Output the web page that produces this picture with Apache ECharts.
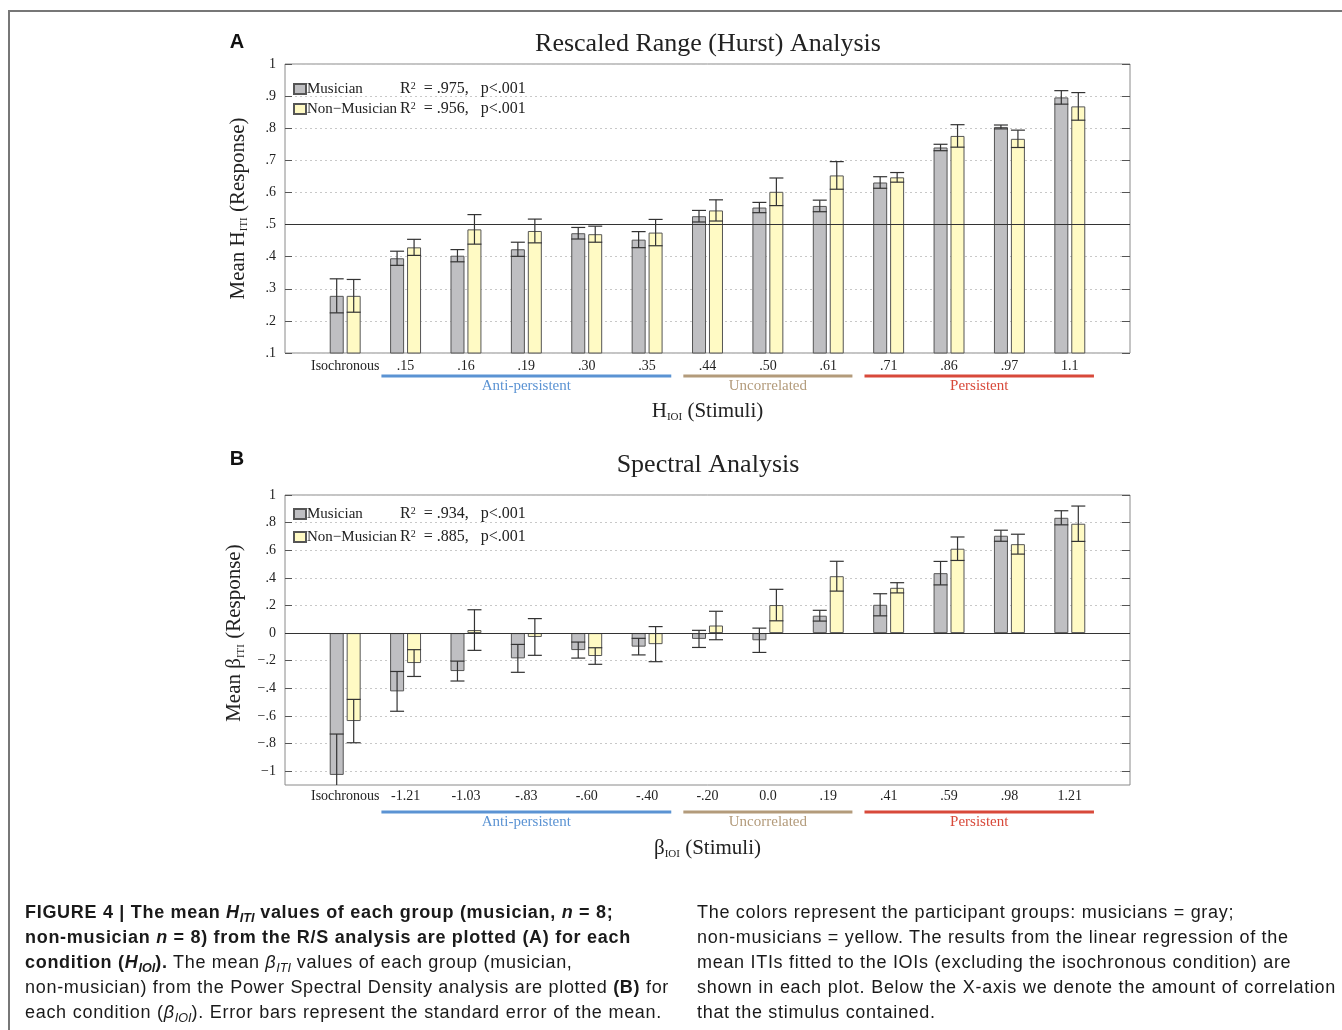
<!DOCTYPE html>
<html>
<head>
<meta charset="utf-8">
<title>Figure 4</title>
<script src="https://cdn.jsdelivr.net/npm/echarts@6/dist/echarts.min.js"></script>
<style>
    html, body { margin: 0; padding: 0; background: #fff; }
    #main { position: absolute; left: 0; top: 0; width: 1342px; height: 1030px; }
    #frame { position: absolute; left: 8px; top: 10px; width: 1400px; height: 1100px; border-top: 2px solid #777; border-left: 2px solid #777; pointer-events: none; }
    .cap { position: absolute; font-family: "Liberation Sans", Arial, sans-serif; font-size: 18px; letter-spacing: 0.7px; color: #1a1a1a; line-height: 25px; }
    .cap div { white-space: nowrap; height: 25px; }
    .cap .j { text-align: justify; text-align-last: justify; }
    .cap sub { font-size: 0.7em; line-height: 0; vertical-align: -0.3em; letter-spacing: 0; }
</style>
</head>
<body>
<div id="main"></div>
<div id="frame"></div>
<div class="cap" style="left:25px; top:900px;">
    <div><b>FIGURE 4 | The mean <i>H<sub>ITI</sub></i> values of each group (musician, <i>n</i> = 8;</b></div>
    <div><b>non-musician <i>n</i> = 8) from the R/S analysis are plotted (A) for each</b></div>
    <div><b>condition (<i>H<sub>IOI</sub></i>).</b> The mean <i>β<sub>ITI</sub></i> values of each group (musician,</div>
    <div class="j" style="width:640px">non-musician) from the Power Spectral Density analysis are plotted <b>(B)</b> for</div>
    <div class="j" style="width:637px">each condition (<i>β<sub>IOI</sub></i>). Error bars represent the standard error of the mean.</div>
</div>
<div class="cap" style="left:697px; top:900px;">
    <div>The colors represent the participant groups: musicians = gray;</div>
    <div>non-musicians = yellow. The results from the linear regression of the</div>
    <div>mean ITIs fitted to the IOIs (excluding the isochronous condition) are</div>
    <div class="j" style="width:639px">shown in each plot. Below the X-axis we denote the amount of correlation</div>
    <div>that the stimulus contained.</div>
</div>
<script>
// 数据 (A) R/S 分析
var catA = ['Isochronous', '.15', '.16', '.19', '.30', '.35', '.44', '.50', '.61', '.71', '.86', '.97', '1.1'];
var musA = [0.278, 0.395, 0.403, 0.423, 0.473, 0.453, 0.526, 0.553, 0.558, 0.631, 0.740, 0.804, 0.896];
var musAErr = [0.053, 0.022, 0.019, 0.022, 0.018, 0.025, 0.018, 0.016, 0.018, 0.018, 0.010, 0.006, 0.021];
var nonA = [0.278, 0.429, 0.485, 0.480, 0.470, 0.475, 0.544, 0.602, 0.653, 0.647, 0.776, 0.767, 0.868];
var nonAErr = [0.051, 0.025, 0.046, 0.037, 0.025, 0.041, 0.033, 0.043, 0.043, 0.015, 0.035, 0.027, 0.043];
var r2A = ['.975', '.956'];
var refA = 0.5;

// 数据 (B) 功率谱分析
var catB = ['Isochronous', '-1.21', '-1.03', '-.83', '-.60', '-.40', '-.20', '0.0', '.19', '.41', '.59', '.98', '1.21'];
var musB = [-1.027, -0.422, -0.275, -0.183, -0.123, -0.098, -0.042, -0.052, 0.126, 0.205, 0.434, 0.705, 0.835];
var musBErr = [0.296, 0.144, 0.072, 0.101, 0.058, 0.060, 0.062, 0.088, 0.039, 0.080, 0.085, 0.040, 0.051];
var nonB = [-0.637, -0.217, 0.022, -0.028, -0.166, -0.080, 0.055, 0.203, 0.412, 0.328, 0.611, 0.644, 0.792];
var nonBErr = [0.157, 0.097, 0.147, 0.133, 0.060, 0.127, 0.103, 0.114, 0.108, 0.037, 0.085, 0.072, 0.128];
var r2B = ['.934', '.885'];
var refB = 0;

var groupNames = ['Musician', 'Non−Musician'];
var pText = 'p<.001';

// x轴下方的相关性分组
var corrNames = ['Anti-persistent', 'Uncorrelated', 'Persistent'];
var corrStart = [1, 6, 9];
var corrEnd = [5, 8, 12];
var corrColors = ['#5b93d3', '#b39b7b', '#d8493a'];

var SERIF = '"Liberation Serif", "DejaVu Serif", serif';
var SANS = '"Liberation Sans", Arial, sans-serif';
var BAR_W = 14;
var BAR_OFF = 8.5;

var chart = echarts.init(document.getElementById('main'));

function fmtTick(v) {
    var r = Math.round(v * 10) / 10;
    if (r === 0) return '0';
    var s = Math.abs(r) === 1 ? '1' : Math.abs(r).toFixed(1).replace(/^0/, '');
    return (r < 0 ? '−' : '') + s;
}

// 误差线
function errRender(offset) {
    return function (params, api) {
        var i = api.value(0), v = api.value(1), e = api.value(2);
        var c1 = api.coord([i, v + e]);
        var c2 = api.coord([i, v - e]);
        var cs = params.coordSys;
        var x = c1[0] + offset;
        var yTop = Math.max(c1[1], cs.y);
        var yBot = Math.min(c2[1], cs.y + cs.height);
        var st = { stroke: '#333', lineWidth: 1.2 };
        var kids = [{ type: 'line', shape: { x1: x, y1: yTop, x2: x, y2: yBot }, style: st }];
        if (c1[1] >= cs.y) kids.push({ type: 'line', shape: { x1: x - BAR_W / 2, y1: yTop, x2: x + BAR_W / 2, y2: yTop }, style: st });
        if (c2[1] <= cs.y + cs.height) kids.push({ type: 'line', shape: { x1: x - BAR_W / 2, y1: yBot, x2: x + BAR_W / 2, y2: yBot }, style: st });
        return { type: 'group', children: kids };
    };
}

function corrRender(lineGap, textGap) {
    return function (params, api) {
        var s = api.value(0), e = api.value(1), k = api.value(2);
        var band = api.size([1, 0])[0];
        var x1 = api.coord([s, 0])[0] - band * 0.4;
        var x2 = api.coord([e, 0])[0] + band * 0.4;
        var yb = params.coordSys.y + params.coordSys.height;
        return {
            type: 'group',
            children: [
                { type: 'line', shape: { x1: x1, y1: yb + lineGap, x2: x2, y2: yb + lineGap }, style: { stroke: corrColors[k], lineWidth: 3 } },
                { type: 'text', style: { text: corrNames[k], x: (x1 + x2) / 2, y: yb + textGap, align: 'center', verticalAlign: 'middle', fill: corrColors[k], font: '15px ' + SERIF } }
            ]
        };
    };
}

function legendFor(r2, top, gap) {
    return {
        data: groupNames,
        orient: 'vertical',
        left: 293,
        top: top,
        padding: 0,
        itemGap: gap,
        itemWidth: 12,
        itemHeight: 10,
        icon: 'rect',
        selectedMode: false,
        formatter: function (name) {
            var k = groupNames.indexOf(name);
            return '{n|' + name + '}{r|R}{p|2}{r|  = ' + r2[k] + ',   ' + pText + '}';
        },
        textStyle: {
            padding: [0, 0, 0, -4],
            rich: {
                n: { width: 93, fontSize: 15, fontFamily: SERIF, color: '#222', lineHeight: 16 },
                r: { fontSize: 16, fontFamily: SERIF, color: '#222', lineHeight: 16 },
                p: { fontSize: 10, fontFamily: SERIF, color: '#222', lineHeight: 8, verticalAlign: 'top' }
            }
        }
    };
}

var nameRich = {
    a: { fontSize: 21, fontFamily: SERIF, color: '#222', lineHeight: 24 },
    s: { fontSize: 11, fontFamily: SERIF, color: '#222', lineHeight: 9, verticalAlign: 'bottom' }
};

function barSeries(name, data, xi, yi, color) {
    return {
        name: name, type: 'bar', xAxisIndex: xi, yAxisIndex: yi, data: data,
        barWidth: BAR_W, barGap: '21%', clip: true, z: 2,
        itemStyle: { color: color, borderColor: '#555', borderWidth: 1 }
    };
}

function errSeries(vals, errs, xi, yi, offset) {
    return {
        type: 'custom', name: 'se', xAxisIndex: xi, yAxisIndex: yi, z: 4, silent: true,
        renderItem: errRender(offset),
        data: vals.map(function (v, i) { return [i, v, errs[i]]; })
    };
}

function corrSeries(xi, yi, lineGap, textGap) {
    return {
        type: 'custom', name: 'corr', xAxisIndex: xi, yAxisIndex: yi, silent: true, clip: false,
        renderItem: corrRender(lineGap, textGap),
        data: corrStart.map(function (s, k) { return [s, corrEnd[k], k]; })
    };
}

function refSeries(xi, yi, val) {
    return {
        type: 'line', name: 'ref', xAxisIndex: xi, yAxisIndex: yi, data: [], z: 5, silent: true,
        markLine: {
            symbol: 'none', silent: true, label: { show: false },
            lineStyle: { color: '#333', type: 'solid', width: 1 },
            data: [{ yAxis: val }]
        }
    };
}

var yLeftBase = {
    type: 'value', position: 'left',
    axisLine: { show: false },
    axisTick: { show: true, inside: true, length: 7, lineStyle: { color: '#555' } },
    axisLabel: { fontFamily: SERIF, fontSize: 14, color: '#222', margin: 9, formatter: fmtTick },
    splitLine: { show: true, lineStyle: { color: '#c8c8c8', type: [2, 3], width: 1 } }
};
var yRightBase = {
    type: 'value', position: 'right',
    axisLine: { show: false },
    axisTick: { show: true, inside: true, length: 8, lineStyle: { color: '#555' } },
    axisLabel: { show: false },
    splitLine: { show: false }
};
function catAxis(data, grid, margin) {
    return {
        type: 'category', gridIndex: grid, data: data,
        axisLine: { show: false, onZero: false },
        axisTick: { show: false },
        axisLabel: { interval: 0, fontFamily: SERIF, fontSize: 14, color: '#222', margin: margin }
    };
}
function frameXAxis(grid, nameRichText, gap) {
    return {
        type: 'value', gridIndex: grid, min: 0, max: 1,
        axisLine: { show: false }, axisTick: { show: false }, axisLabel: { show: false }, splitLine: { show: false },
        name: nameRichText, nameLocation: 'middle', nameGap: gap,
        nameTextStyle: { rich: nameRich }
    };
}

var option = {
    animation: false,
    title: [
        { text: 'Rescaled Range (Hurst) Analysis', left: 708, top: 31, textAlign: 'center', padding: 0,
          textStyle: { fontFamily: SERIF, fontSize: 26, fontWeight: 'normal', color: '#222' } },
        { text: 'A', left: 237, top: 32, textAlign: 'center', padding: 0,
          textStyle: { fontFamily: SANS, fontSize: 20, fontWeight: 'bold', color: '#111' } },
        { text: 'Spectral Analysis', left: 708, top: 452, textAlign: 'center', padding: 0,
          textStyle: { fontFamily: SERIF, fontSize: 26, fontWeight: 'normal', color: '#222' } },
        { text: 'B', left: 237, top: 449, textAlign: 'center', padding: 0,
          textStyle: { fontFamily: SANS, fontSize: 20, fontWeight: 'bold', color: '#111' } }
    ],
    legend: [legendFor(r2A, 81, 4), legendFor(r2B, 506, 7)],
    grid: [
        // A: 外框
        { left: 285, width: 845, top: 64, height: 289, show: true, borderColor: '#8a8a8a', borderWidth: 1, backgroundColor: 'transparent' },
        // A: 柱子
        { left: 315, width: 785, top: 64, height: 289 },
        // B: 外框
        { left: 285, width: 845, top: 495, height: 290, show: true, borderColor: '#8a8a8a', borderWidth: 1, backgroundColor: 'transparent' },
        // B: 柱子
        { left: 315, width: 785, top: 495, height: 290 },
        // B: y轴刻度 (-1 到 1)
        { left: 285, width: 845, top: 495, height: 276.19 }
    ],
    xAxis: [
        frameXAxis(0, '{a|H}{s|IOI}{a| (Stimuli)}', 46),
        catAxis(catA, 1, 6),
        frameXAxis(2, '{a|β}{s|IOI}{a| (Stimuli)}', 51),
        catAxis(catB, 3, 4),
        { type: 'value', gridIndex: 4, show: false, min: 0, max: 1 }
    ],
    yAxis: [
        echarts.util.merge({ gridIndex: 0, min: 0.1, max: 1, interval: 0.1,
            name: '{a|Mean H}{s|ITI}{a| (Response)}', nameLocation: 'middle', nameRotate: 90, nameGap: 35,
            nameTextStyle: { rich: nameRich } }, yLeftBase),
        echarts.util.merge({ gridIndex: 0, min: 0.1, max: 1, interval: 0.1 }, yRightBase),
        { type: 'value', gridIndex: 1, show: false, min: 0.1, max: 1 },
        { type: 'value', gridIndex: 2, show: false, min: -1.1, max: 1 },
        { type: 'value', gridIndex: 3, show: false, min: -1.1, max: 1 },
        echarts.util.merge({ gridIndex: 4, min: -1, max: 1, interval: 0.2,
            name: '{a|Mean β}{s|ITI}{a| (Response)}', nameLocation: 'middle', nameRotate: 90, nameGap: 35,
            nameTextStyle: { rich: nameRich } }, yLeftBase),
        echarts.util.merge({ gridIndex: 4, min: -1, max: 1, interval: 0.2 }, yRightBase)
    ],
    series: [
        barSeries(groupNames[0], musA, 1, 2, '#bfbfc2'),
        barSeries(groupNames[1], nonA, 1, 2, '#fffac4'),
        errSeries(musA, musAErr, 1, 2, -BAR_OFF),
        errSeries(nonA, nonAErr, 1, 2, BAR_OFF),
        corrSeries(1, 2, 23, 33),
        refSeries(0, 0, refA),

        barSeries(groupNames[0], musB, 3, 4, '#bfbfc2'),
        barSeries(groupNames[1], nonB, 3, 4, '#fffac4'),
        errSeries(musB, musBErr, 3, 4, -BAR_OFF),
        errSeries(nonB, nonBErr, 3, 4, BAR_OFF),
        corrSeries(3, 4, 27, 37),
        refSeries(2, 3, refB)
    ]
};

chart.setOption(option);
</script>
</body>
</html>
